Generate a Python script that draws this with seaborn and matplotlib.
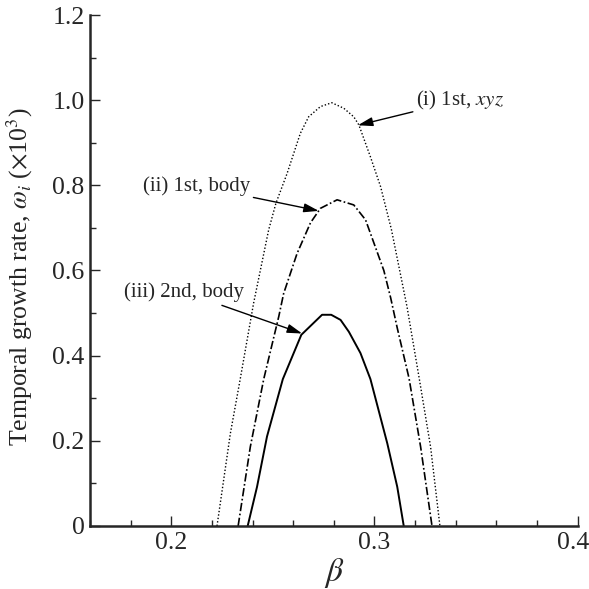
import pandas as pd
import matplotlib
matplotlib.use("Agg")
import matplotlib.pyplot as plt
import matplotlib.transforms as mtransforms
import seaborn as sns
from matplotlib.ticker import MultipleLocator, FuncFormatter

# curves
beta_i = [0.2225, 0.2291, 0.2340, 0.2405, 0.2479, 0.2515, 0.2570, 0.2635, 0.2676,
          0.2734, 0.2790, 0.2849, 0.2898, 0.2923, 0.2980, 0.3030, 0.3083, 0.3160,
          0.3220, 0.3276, 0.3322]
omega_i = [0.0, 0.218, 0.347, 0.523, 0.695, 0.758, 0.828, 0.922, 0.961,
           0.985, 0.994, 0.981, 0.961, 0.942, 0.867, 0.797, 0.697, 0.515,
           0.347, 0.186, 0.0]

beta_ii = [0.2329, 0.2389, 0.2455, 0.2529, 0.2553, 0.2619, 0.2685, 0.2734, 0.2816,
           0.2898, 0.2956, 0.3046, 0.3080, 0.3112, 0.3170, 0.3227, 0.3283]
omega_ii = [0.0, 0.186, 0.345, 0.492, 0.546, 0.640, 0.712, 0.746, 0.766,
            0.754, 0.719, 0.600, 0.535, 0.465, 0.347, 0.186, 0.0]

beta_iii = [0.2376, 0.2422, 0.2471, 0.2549, 0.2640, 0.2742, 0.2787, 0.2833, 0.2874,
            0.2931, 0.2980, 0.3063, 0.3112, 0.3144]
omega_iii = [0.0, 0.092, 0.210, 0.345, 0.449, 0.496, 0.496, 0.484, 0.456,
             0.406, 0.345, 0.194, 0.092, 0.0]

sns.set_style("ticks")
plt.rcParams['font.family'] = ['Liberation Serif', 'DejaVu Serif']
plt.rcParams['mathtext.fontset'] = 'stix'

fig = plt.figure(figsize=(5.89, 5.89), dpi=100)
ax = fig.add_axes([0.1528, 0.107, 0.828, 0.8675])

sns.lineplot(x=beta_i, y=omega_i, ax=ax, color='black', lw=1.0,
             linestyle=(0, (1, 1.5)), sort=False)
sns.lineplot(x=beta_ii, y=omega_ii, ax=ax, color='black', lw=1.2,
             linestyle=(0, (5, 1.5, 1, 1.5)), sort=False)
sns.lineplot(x=beta_iii, y=omega_iii, ax=ax, color='black', lw=1.4,
             linestyle='-', sort=False)

ax.set_xlim(0.16, 0.4)
ax.set_ylim(0, 1.2)
ax.xaxis.set_major_locator(MultipleLocator(0.1))
ax.xaxis.set_minor_locator(MultipleLocator(0.02))
ax.yaxis.set_major_locator(MultipleLocator(0.2))
ax.yaxis.set_minor_locator(MultipleLocator(0.1))
ax.xaxis.set_major_formatter(FuncFormatter(lambda v, p: f"{v:.1f}"))
ax.yaxis.set_major_formatter(FuncFormatter(lambda v, p: "0" if abs(v) < 1e-9 else f"{v:.1f}"))

sns.despine(ax=ax)
for s in ['left', 'bottom']:
    ax.spines[s].set_linewidth(1.8)
ax.tick_params(which='major', direction='in', length=7, width=1.0, labelsize=18.5, pad=4)
ax.tick_params(which='minor', direction='in', length=4.5, width=1.0)

ax.set_xlabel(r'$\beta$', fontsize=24, labelpad=2)
ax.set_ylabel(r'Temporal growth rate, $\omega_i$ ($\times$10$^3$)', fontsize=18.5)
ax.yaxis.set_label_coords(-0.113, 0.487)

arrow = dict(arrowstyle='-|>,head_length=0.6,head_width=0.18', color='black', lw=1.0,
             shrinkA=0, shrinkB=0)
ax.annotate(r'(i) 1st, $xyz$', xy=(0.2918, 0.941), xytext=(0.3205, 1.0),
            fontsize=15, ha='left', va='center', arrowprops=arrow)
ax.annotate('(ii) 1st, body', xy=(0.2726, 0.740), xytext=(0.2388, 0.799),
            fontsize=15, ha='right', va='center', arrowprops=arrow)
ax.annotate('(iii) 2nd, body', xy=(0.2644, 0.452), xytext=(0.2360, 0.549),
            fontsize=15, ha='right', va='center', arrowprops=arrow)

# keep the last x tick label inside the canvas
fig.canvas.draw()
for t in ax.xaxis.get_major_ticks():
    if abs(t.get_loc() - 0.4) < 1e-6:
        t.label1.set_transform(t.label1.get_transform() +
                               mtransforms.ScaledTranslation(-5 / 100, 0, fig.dpi_scale_trans))

fig.savefig('out.png', dpi=100)
